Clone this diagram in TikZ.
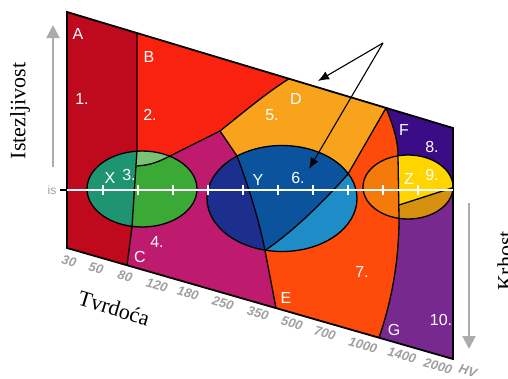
\documentclass[tikz,border=0pt]{standalone}
\usepackage{fontspec}
\setmainfont{Liberation Serif}
\newfontfamily\lsans{Liberation Sans}
\usetikzlibrary{arrows.meta}
\definecolor{cA}{HTML}{BE0A1C}
\definecolor{cB}{HTML}{F8220E}
\definecolor{cMag}{HTML}{BE1A6E}
\definecolor{cD}{HTML}{F9A21B}
\definecolor{cSeven}{HTML}{FE4A0A}
\definecolor{cF}{HTML}{3A0C85}
\definecolor{cG}{HTML}{78298F}
\definecolor{cTeal}{HTML}{1E9470}
\definecolor{cGreen}{HTML}{3BA935}
\definecolor{cLGreen}{HTML}{7AC375}
\definecolor{cNavy}{HTML}{1C2F8E}
\definecolor{cMid}{HTML}{0C539E}
\definecolor{cLight}{HTML}{1E8CC7}
\definecolor{cZor}{HTML}{F47A0C}
\definecolor{cYel}{HTML}{FFD500}
\definecolor{cGold}{HTML}{D69010}
\begin{document}
\begin{tikzpicture}[x=1pt,y=-1pt,
  lbl/.style={text=white,font=\lsans\fontsize{16}{19}\selectfont,inner sep=0pt},
  num/.style={text=gray!75,font=\lsans\bfseries\itshape\fontsize{13}{15}\selectfont,rotate=-16,inner sep=0pt},
  ttl/.style={text=black,font=\fontsize{22}{26}\selectfont,inner sep=0pt},
  bl/.style={draw=black,line width=1.3pt},
  barrow/.style={draw=black,line width=1.1pt,-{Latex[length=11pt,width=9pt]}},
  garrow/.style={draw=gray!65,line width=2pt,-{Triangle[length=13pt,width=13pt]}}]
\useasboundingbox (0,0) rectangle (508,378);
% key points
\coordinate (P1) at (67,12);
\coordinate (P2) at (453,128);
\coordinate (P3) at (453,359);
\coordinate (P4) at (67,248);
\coordinate (Ltop) at (137,33);
\coordinate (L1a) at (137,150);
\coordinate (L1b) at (132,227);
\coordinate (Cpt) at (127,265.3);
\coordinate (J1) at (137,166);
\coordinate (J2) at (170,156);
\coordinate (J3) at (220,131);
\coordinate (J4) at (289,78.7);
\coordinate (Yt) at (237,156);
\coordinate (Yb) at (265,250.5);
\coordinate (E) at (276,308);
\coordinate (Fc) at (386,108);
\coordinate (Yr) at (348,174);
\coordinate (Zt) at (398,156);
\coordinate (Zb) at (399,218);
\coordinate (G) at (379,337.7);
\coordinate (Zm) at (399,205);
\coordinate (Ze) at (452,188);
% regions
\begin{scope}
  \clip (P1) -- (P2) -- (P3) -- (P4) -- cycle;
  \fill[cMag] (0,0) rectangle (508,378);
  \fill[cA] (0,0) -- (137,0) -- (L1a) -- (L1b) -- (Cpt) -- (125,378) -- (0,378) -- cycle;
  \fill[cB] (137,0) -- (J1) .. controls (152,165) and (160,161) .. (J2) -- (J3) .. controls (245,111) and (265,94) .. (J4) -- (300,0) -- cycle;
  \fill[cD] (J3) .. controls (245,111) and (265,94) .. (J4) -- (340,40) -- (Fc) -- (Yr) -- (290,200) -- (Yt) -- cycle;
  \fill[cSeven] (Fc) -- (Yr) .. controls (325,200) and (295,230) .. (Yb) -- (E) -- (276,378) -- (379,378) -- (G) .. controls (392,300) and (399,260) .. (Zb) -- (Zt) .. controls (398,140) and (393,125) .. (Fc) -- cycle;
  \fill[cG] (Fc) .. controls (393,125) and (398,140) .. (Zt) -- (Zb) .. controls (399,260) and (392,300) .. (G) -- (379,378) -- (508,378) -- (508,0) -- cycle;
  \fill[cF] (Fc) .. controls (393,125) and (398,140) .. (Zt) -- (398,187) -- (508,187) -- (508,0) -- cycle;
\end{scope}
% X ellipse
\begin{scope}
  \clip (142,189) ellipse [x radius=55pt,y radius=38pt];
  \fill[cTeal] (80,140) rectangle (200,240);
  \fill[cGreen] (137,140) -- (L1a) -- (L1b) -- (131,240) -- (200,240) -- (200,140) -- cycle;
  \fill[cLGreen] (137,120) -- (J1) .. controls (152,165) and (160,161) .. (J2) -- (J3) -- cycle;
\end{scope}
% Y ellipse
\begin{scope}
  \clip (282,198.5) ellipse [x radius=75pt,y radius=53pt];
  \fill[cNavy] (200,140) rectangle (360,260);
  \fill[cMid] (J3) -- (Yt) .. controls (246,180) and (258,215) .. (Yb) .. controls (295,230) and (325,200) .. (Yr) -- (Fc) -- cycle;
  \fill[cLight] (Yb) .. controls (295,230) and (325,200) .. (Yr) -- (380,160) -- (380,270) -- (260,270) -- cycle;
\end{scope}
% Z ellipse
\begin{scope}
  \clip (408,187) ellipse [x radius=45pt,y radius=32pt];
  \fill[cZor] (360,150) rectangle (460,225);
  \fill[cYel] (Zt) -- (Zm) -- (460,185.4) -- (460,150) -- (398,150) -- cycle;
  \fill[cGold] (Zm) -- (460,185.4) -- (460,225) -- (399,225) -- cycle;
\end{scope}
% boundaries
\draw[bl] (Ltop) -- (L1a) -- (L1b) -- (Cpt);
\draw[bl] (J1) .. controls (152,165) and (160,161) .. (J2) -- (J3) .. controls (245,111) and (265,94) .. (J4);
\draw[bl] (J3) -- (Yt) .. controls (246,180) and (258,215) .. (Yb) -- (E);
\draw[bl] (Fc) -- (Yr) .. controls (325,200) and (295,230) .. (Yb);
\draw[bl] (Fc) .. controls (393,125) and (398,140) .. (Zt) -- (Zb) .. controls (399,260) and (392,300) .. (G);
\draw[bl] (142,189) ellipse [x radius=55pt,y radius=38pt];
\draw[bl] (282,198.5) ellipse [x radius=75pt,y radius=53pt];
\draw[bl] (408,187) ellipse [x radius=45pt,y radius=32pt];
\draw[bl] (Zm) -- (Ze);
\draw[draw=black,line width=1.8pt,line join=miter] (P1) -- (P2) -- (P3) -- (P4) -- cycle;
% white axis
\coordinate (W0) at (60,190);
\coordinate (W1) at (67,190);
\coordinate (W2) at (453,190);
\draw[black,line width=1.2pt] (W0) -- (W1);
\draw[white,line width=2.6pt] (W1) -- (W2);
\foreach \x in {103,138,173,208,243,278,313,348,383,418}
  \draw[white,line width=1.2pt] (\x,185) -- (\x,195);
\node[text=gray!75,font=\lsans\fontsize{12}{14}\selectfont,inner sep=0pt] (is) at (52,190) {is};
% labels
\node[lbl] (lA) at (78,34) {A};
\node[lbl] (lB) at (149,57) {B};
\node[lbl] (lC) at (140,257) {C};
\node[lbl] (lD) at (296,99) {D};
\node[lbl] (lE) at (286,298) {E};
\node[lbl] (lF) at (404,130) {F};
\node[lbl] (lG) at (394,330) {G};
\node[lbl] (l1) at (82,99) {1.};
\node[lbl] (l2) at (150,115) {2.};
\node[lbl] (l3) at (129,175) {3.};
\node[lbl] (l4) at (157,242) {4.};
\node[lbl] (l5) at (272,115) {5.};
\node[lbl] (l6) at (298,178) {6.};
\node[lbl] (l7) at (362,272) {7.};
\node[lbl] (l8) at (432,147) {8.};
\node[lbl] (l9) at (432,175) {9.};
\node[lbl] (l10) at (441,320) {10.};
\node[lbl] (lX) at (110,178) {X};
\node[lbl] (lY) at (258,180) {Y};
\node[lbl] (lZ) at (409,179) {Z};
% hardness scale
\node[num] (n30) at (69,261) {30};
\node[num] (n50) at (96,268) {50};
\node[num] (n80) at (125,276) {80};
\node[num] (n120) at (157,285) {120};
\node[num] (n180) at (188,293) {180};
\node[num] (n250) at (223,303) {250};
\node[num] (n350) at (258,313) {350};
\node[num] (n500) at (292,323) {500};
\node[num] (n700) at (325,333) {700};
\node[num] (n1000) at (363,345) {1000};
\node[num] (n1400) at (402,355) {1400};
\node[num] (n2000) at (438,366) {2000};
\node[num] (nHV) at (468,371) {HV};
% titles
\node[ttl,rotate=90] (tI) at (20,111) {Istezljivost};
\node[ttl,rotate=-17] (tT) at (114,308) {Tvrdoća};
\node[ttl,rotate=90] (tK) at (505,261) {Krhost};
% arrows
\coordinate (GL1) at (53,167);
\coordinate (GL2) at (53,25);
\coordinate (GR1) at (469,203);
\coordinate (GR2) at (469,349);
\draw[garrow] (GL1) -- (GL2);
\draw[garrow] (GR1) -- (GR2);
\coordinate (S) at (383,43);
\coordinate (T1) at (318,81);
\coordinate (T2) at (309,169);
\draw[barrow] (S) -- (T1);
\draw[barrow] (S) -- (T2);
\end{tikzpicture}
\end{document}
